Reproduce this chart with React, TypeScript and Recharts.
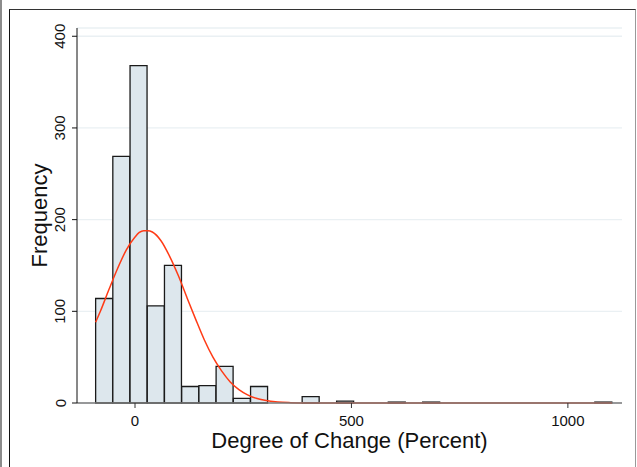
import React from "react";
import { ComposedChart, Bar, Line, XAxis, YAxis, CartesianGrid } from "recharts";

// histogram bins: midpoint of each bin (percent) and number of cases
const binMids = [
  -71.1, -31.4, 8.4, 48.2, 87.9, 127.7, 167.5, 207.2, 247.0, 286.8,
  326.5, 366.3, 406.0, 445.8, 485.6, 525.3, 565.1, 604.9, 644.6, 684.4,
  724.2, 763.9, 803.7, 843.5, 883.2, 923.0, 962.8, 1002.5, 1042.3, 1082.1
];
const binCounts = [
  114, 269, 368, 106, 150, 18, 19, 40, 5, 18,
  0, 0, 7, 0, 2, 0, 0, 1, 0, 1,
  0, 0, 0, 0, 0, 0, 0, 0, 0, 1
];

// normal density overlay (in frequency units)
const curveX = [
  -91, -80, -60, -40, -20, 0, 10, 20, 30, 40, 60, 80, 100, 120, 140, 160,
  180, 200, 220, 240, 260, 280, 300, 330, 360, 400, 450, 500, 700, 900, 1102
];
const curveY = [
  88, 100, 124, 147, 167, 181, 186, 188, 188, 186.5, 177, 160, 139, 115, 91.5, 69,
  50, 35, 23, 14.6, 8.9, 5.1, 2.9, 1.1, 0.4, 0.05, 0, 0, 0, 0, 0
];

const xTicks = [0, 500, 1000];
const yTicks = [0, 100, 200, 300, 400];

const bins = binMids.map((mid, i) => ({ mid, count: binCounts[i] }));
const curve = curveX.map((x, i) => ({ x, freq: curveY[i] }));

const FONT = "'Liberation Sans', Arial, Helvetica, sans-serif";

const YTick = (props: any) => {
  const { x, y, payload } = props;
  return (
    <text
      x={x}
      y={y}
      transform={`rotate(-90 ${x} ${y})`}
      textAnchor="middle"
      fontSize={15}
      fontFamily={FONT}
      fill="#111"
    >
      {payload.value}
    </text>
  );
};

const YTitle = (props: any) => {
  const vb = props.viewBox || { x: 0, y: 28, width: 77, height: 375 };
  const cx = 47;
  const cy = vb.y + vb.height / 2;
  return (
    <text
      x={cx}
      y={cy}
      transform={`rotate(-90 ${cx} ${cy})`}
      textAnchor="middle"
      fontSize={22}
      fontFamily={FONT}
      fill="#111"
    >
      Frequency
    </text>
  );
};

const XTitle = (props: any) => {
  const vb = props.viewBox || { x: 77, y: 403, width: 545, height: 64 };
  return (
    <text
      x={vb.x + vb.width / 2}
      y={447.5}
      textAnchor="middle"
      fontSize={22}
      fontFamily={FONT}
      fill="#111"
    >
      Degree of Change (Percent)
    </text>
  );
};

export default function App() {
  return (
    <div style={{ position: "relative", width: 637, height: 467, overflow: "hidden", background: "#fff" }}>
      <style>{"body{margin:0}"}</style>
      <ComposedChart
        width={637}
        height={467}
        data={bins}
        margin={{ top: 28, right: 15, bottom: 0, left: 0 }}
        barCategoryGap={0}
        barGap={0}
      >
        <CartesianGrid vertical={false} stroke="#eaf0f3" strokeWidth={1.3} />
        <XAxis
          dataKey="mid"
          type="number"
          domain={[-134, 1125]}
          ticks={xTicks}
          interval={0}
          height={64}
          tickSize={5}
          tickMargin={7}
          axisLine={{ stroke: "#7a7a7a", strokeWidth: 1.3 }}
          tickLine={{ stroke: "#333" }}
          tick={{ fontSize: 15, fill: "#111", fontFamily: FONT }}
          label={<XTitle />}
        />
        <XAxis xAxisId="curve" dataKey="x" type="number" domain={[-134, 1125]} hide />
        <YAxis
          type="number"
          domain={[0, 409]}
          ticks={yTicks}
          interval={0}
          width={77}
          tickSize={5}
          tickMargin={6.5}
          axisLine={{ stroke: "#111" }}
          tickLine={{ stroke: "#111" }}
          tick={<YTick />}
          label={<YTitle />}
        />
        <Bar
          dataKey="count"
          fill="#dde7ed"
          stroke="#1a1a1a"
          strokeWidth={1.3}
          isAnimationActive={false}
        />
        <Line
          data={curve}
          xAxisId="curve"
          dataKey="freq"
          type="monotone"
          stroke="#ff3b16"
          strokeWidth={1.5}
          dot={false}
          activeDot={false}
          isAnimationActive={false}
        />
      </ComposedChart>
      <div style={{ position: "absolute", left: 0, top: 0, width: 2, height: 467, background: "#8c8c8c" }} />
      <div
        style={{
          position: "absolute",
          left: 9,
          top: 9,
          width: 625,
          height: 480,
          borderTop: "1.5px solid #333",
          borderLeft: "1.5px solid #111",
          borderRight: "1.5px solid #999",
          pointerEvents: "none"
        }}
      />
    </div>
  );
}
